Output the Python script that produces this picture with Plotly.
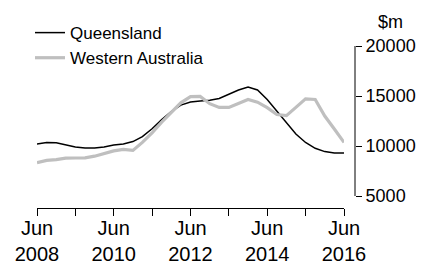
import pandas as pd
import plotly.graph_objects as go

dates = pd.date_range("2008-06-01", periods=33, freq="3MS")
queensland = [10200, 10340, 10320, 10110, 9910, 9790, 9790, 9910, 10100, 10200, 10440,
              10930, 11720, 12640, 13440, 14090, 14400, 14510, 14580, 14750, 15170, 15600,
              15900, 15600, 14650, 13500, 12300, 11200, 10350, 9770, 9440, 9310, 9290]
western_australia = [8340, 8560, 8640, 8780, 8800, 8820, 8980, 9210, 9510, 9660, 9560,
                     10360, 11300, 12380, 13400, 14320, 14930, 14960, 14230, 13860, 13860, 14260,
                     14660, 14380, 13840, 13150, 13040, 13860, 14710, 14650, 13000, 11700, 10360]
tick_years = list(range(2008, 2017))
tick_vals = [f"{y}-06-01" for y in tick_years]
tick_text = [f"Jun<br>{y}" if y % 2 == 0 else "" for y in tick_years]
y_ticks = [5000, 10000, 15000, 20000]
y_tick_text = [str(v) for v in y_ticks]

FONT = "Liberation Sans, Arial, sans-serif"

fig = go.Figure()
fig.add_trace(go.Scatter(x=dates, y=queensland, name="Queensland", mode="lines",
                         line=dict(color="#000000", width=1.5)))
fig.add_trace(go.Scatter(x=dates, y=western_australia, name="Western Australia", mode="lines",
                         line=dict(color="#bfbfbf", width=3.2)))

# page body adds an 8px margin, so the figure is 8px smaller and shifted
fig.update_layout(
    width=419, height=259,
    margin=dict(l=29, r=72, t=38, b=59, autoexpand=False),
    paper_bgcolor="white", plot_bgcolor="white",
    font=dict(family=FONT, color="#000000"),
    showlegend=True,
    legend=dict(x=-0.022, xanchor="left", y=1.191, yanchor="top",
                font=dict(size=17, family=FONT), bgcolor="rgba(0,0,0,0)",
                tracegroupgap=0),
    xaxis=dict(type="date", domain=[0, 0.9654], automargin=False,
               range=[tick_vals[0], tick_vals[-1]],
               tickvals=tick_vals, ticktext=tick_text,
               ticks="outside", ticklen=7, tickwidth=1, tickcolor="#000000",
               ticklabelstandoff=-5,
               showline=True, linecolor="#000000", linewidth=1,
               showgrid=False, zeroline=False,
               tickfont=dict(size=20, family=FONT)),
    yaxis=dict(range=[3800, 20000], side="right", anchor="free", position=1,
               automargin=False,
               tickvals=y_ticks, ticktext=y_tick_text, ticks="outside", ticklen=6, tickwidth=1,
               tickcolor="#000000", showline=False, showgrid=False, zeroline=False,
               tickfont=dict(size=18, family=FONT)),
)

fig.add_shape(type="line", xref="paper", yref="y", x0=1, x1=1,
              y0=min(y_ticks), y1=max(y_ticks), line=dict(color="#000000", width=1))
fig.add_annotation(text="$m", xref="paper", yref="paper", x=1, y=1,
                   xanchor="left", yanchor="bottom", xshift=21, yshift=12,
                   showarrow=False, font=dict(size=18, family=FONT))

fig.write_html("out.html")
